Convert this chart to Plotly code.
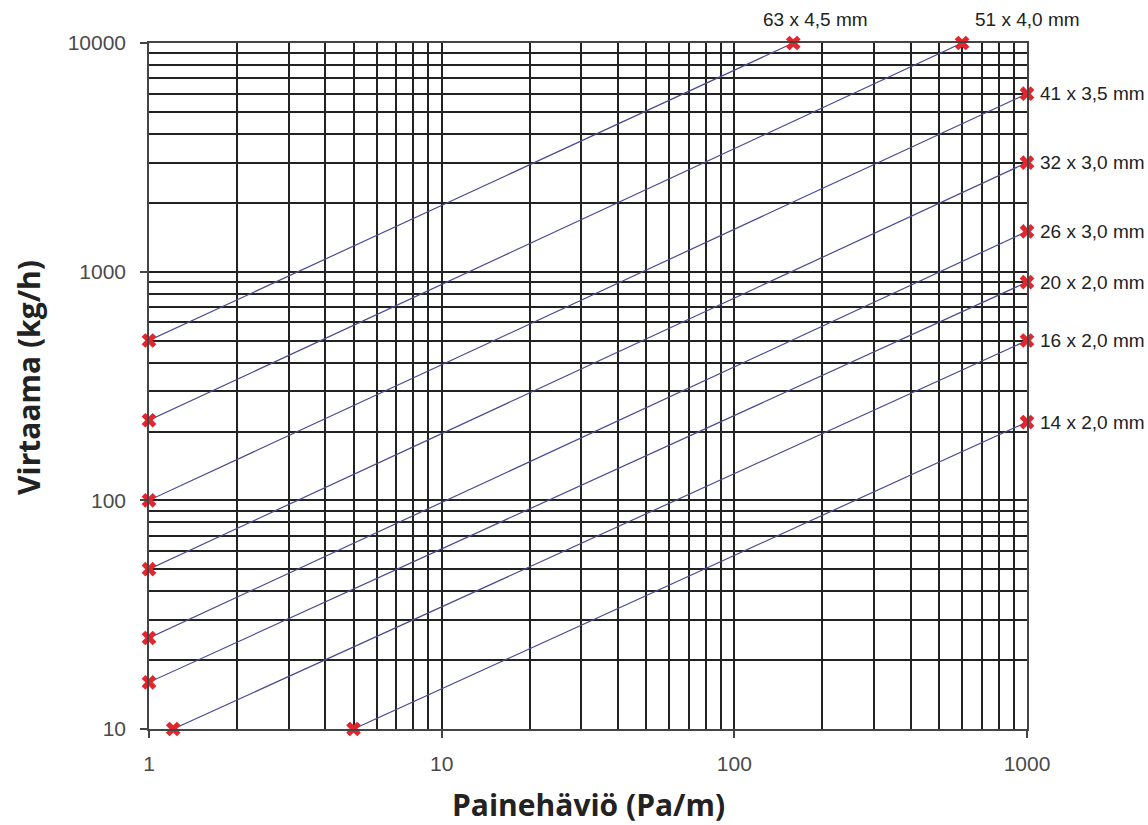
import plotly.graph_objects as go
import math

# Pipe sizes and endpoints (x = pressure loss Pa/m, y = flow kg/h)
pipes = ["63 x 4,5 mm", "51 x 4,0 mm", "41 x 3,5 mm", "32 x 3,0 mm",
         "26 x 3,0 mm", "20 x 2,0 mm", "16 x 2,0 mm", "14 x 2,0 mm"]
x_start = [1, 1, 1, 1, 1, 1, 1.21, 5.0]
y_start = [500, 224, 100, 50, 25, 16, 10, 10]
x_end = [159, 600, 1000, 1000, 1000, 1000, 1000, 1000]
y_end = [10000, 10000, 6000, 3000, 1500, 900, 500, 220]

x_major = [1, 10, 100, 1000]
y_major = [10, 100, 1000, 10000]
x_title = "Painehäviö (Pa/m)"
y_title = "Virtaama (kg/h)"

minor_x = [m * d for d in (1, 10, 100) for m in range(2, 10)]
minor_y = [m * d for d in (10, 100, 1000) for m in range(2, 10)]

fig = go.Figure()
for name, xs, ys, xe, ye in zip(pipes, x_start, y_start, x_end, y_end):
    fig.add_trace(go.Scatter(
        x=[xs, xe], y=[ys, ye], mode="lines+markers", name=name,
        line=dict(color="#4b4b90", width=1.2),
        marker=dict(symbol="x", size=13, color="#e3262d",
                    line=dict(width=0)),
        cliponaxis=False, showlegend=False))
    top = ye >= 10000
    fig.add_annotation(
        x=math.log10(xe), y=math.log10(ye), text=name, showarrow=False,
        xanchor="left", yanchor="middle",
        xshift=(-32 if xe < 300 else 11) if top else 11,
        yshift=24 if top else 0,
        font=dict(family="Liberation Sans, Arial", size=19, color="#222"))

axis_common = dict(
    type="log", showline=True, linecolor="#444", linewidth=1.5, mirror=True,
    showgrid=True, gridcolor="#222", gridwidth=1.6,
    ticks="outside", ticklen=7, tickcolor="#444", tickwidth=1.5,
    tickfont=dict(family="Liberation Sans, Arial", size=21, color="#4a4a4a"),
    zeroline=False,
)
fig.update_xaxes(**axis_common, range=[0, 3], tickmode="array",
                 tickvals=x_major, ticktext=[str(v) for v in x_major],
                 ticklabelstandoff=8,
                 minor=dict(tickmode="array", tickvals=minor_x, showgrid=True,
                            gridcolor="#222", gridwidth=1.6, ticks=""))
fig.update_yaxes(**axis_common, range=[1, 4], tickmode="array",
                 tickvals=y_major, ticktext=[str(v) for v in y_major],
                 ticklabelstandoff=10,
                 minor=dict(tickmode="array", tickvals=minor_y, showgrid=True,
                            gridcolor="#222", gridwidth=1.6, ticks=""))

fig.add_annotation(xref="paper", yref="paper", x=0.5, y=0, yshift=-75,
                   text="<b>" + x_title + "</b>", showarrow=False,
                   xanchor="center", yanchor="middle", borderpad=0,
                   font=dict(family="Open Sans", size=30, color="#222"))
fig.add_annotation(xref="paper", yref="paper", x=0, y=0.5, xshift=-121,
                   yshift=8, textangle=-90,
                   text="<b>" + y_title + "</b>", showarrow=False,
                   xanchor="center", yanchor="middle",
                   font=dict(family="Open Sans", size=30, color="#222"))

fig.update_layout(
    width=1148, height=825,
    margin=dict(l=149, r=121, t=43, b=96),
    paper_bgcolor="white", plot_bgcolor="white",
)
fig.write_html("out.html", config={"displayModeBar": False},
               post_script="document.body.style.margin='0px';"
                           "document.body.style.overflow='hidden';")
